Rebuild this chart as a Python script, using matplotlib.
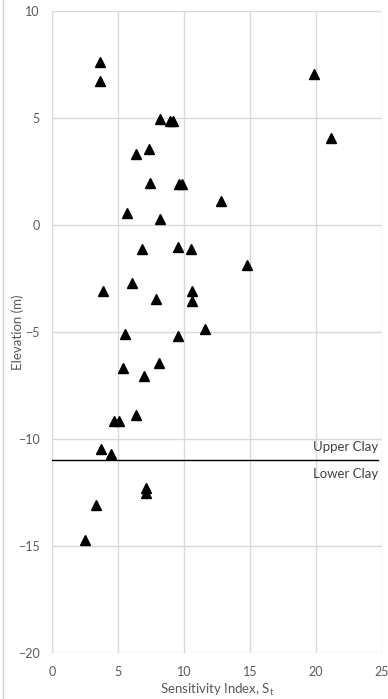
import matplotlib
matplotlib.use('Agg')
import matplotlib.pyplot as plt
from matplotlib.lines import Line2D

# sensitivity index vs elevation
sens = [3.64, 3.64, 8.2, 8.94, 9.14, 6.36, 7.35, 7.42, 9.65, 9.85, 5.68, 8.2,
        19.85, 21.14, 12.83, 6.82, 9.57, 10.5, 6.06, 3.86, 7.9, 10.63, 10.63,
        14.77, 11.57, 5.53, 9.55, 5.4, 8.1, 7.0, 4.67, 5.05, 6.38, 3.7, 4.48,
        7.1, 7.1, 3.36, 2.5]
elev = [7.62, 6.73, 4.94, 4.87, 4.87, 3.32, 3.55, 1.96, 1.9, 1.9, 0.56, 0.3,
        7.06, 4.08, 1.1, -1.12, -1.04, -1.14, -2.71, -3.08, -3.44, -3.07, -3.57,
        -1.88, -4.88, -5.1, -5.17, -6.7, -6.45, -7.05, -9.17, -9.17, -8.88,
        -10.45, -10.7, -12.3, -12.5, -13.1, -14.7]

boundary = -11
layers = ['Upper Clay', 'Lower Clay']
xticks = [0, 5, 10, 15, 20, 25]
yticks = [-20, -15, -10, -5, 0, 5, 10]

plt.rcParams['font.family'] = ['Lato', 'DejaVu Sans']
plt.rcParams['mathtext.default'] = 'regular'

fig = plt.figure(figsize=(3.88, 6.99), dpi=100)
ax = fig.add_axes([52/388, 46/699, 330/388, 642/699])

grid_c = '#d9d9d9'
text_c = '#595959'

ax.set_xlim(0, 25)
ax.set_ylim(-20, 10)
ax.set_xticks(xticks)
ax.set_yticks(yticks)
ax.grid(True, color=grid_c, linewidth=1)
ax.set_axisbelow(True)
for s in ax.spines.values():
    s.set_visible(False)
ax.tick_params(length=0, labelsize=9, labelcolor=text_c, pad=9)

ax.plot(sens, elev, linestyle='none', marker='^', markersize=7,
        color='black', zorder=3)

ax.plot([0, 24.7], [boundary, boundary], color='black', linewidth=1, zorder=2)
ax.text(24.7, boundary + 0.35, layers[0], ha='right', va='bottom',
        fontsize=9.5, color='#404040')
ax.text(24.7, boundary - 0.35, layers[1], ha='right', va='top',
        fontsize=9.5, color='#404040')

fig.text(18/388, 1 - 332/699, 'Elevation (m)', rotation=90, ha='center',
         va='center', fontsize=9.5, color=text_c)
fig.text(217/388, 1 - 690/699, r'Sensitivity Index, S$_{t}$', ha='center',
         va='center', fontsize=9.5, color=text_c)

# thin chart border on the left edge
fig.add_artist(Line2D([3/388, 3/388], [0, 1], color='#d0d0d0', linewidth=1,
                      transform=fig.transFigure))

fig.savefig('out.png', dpi=100)
